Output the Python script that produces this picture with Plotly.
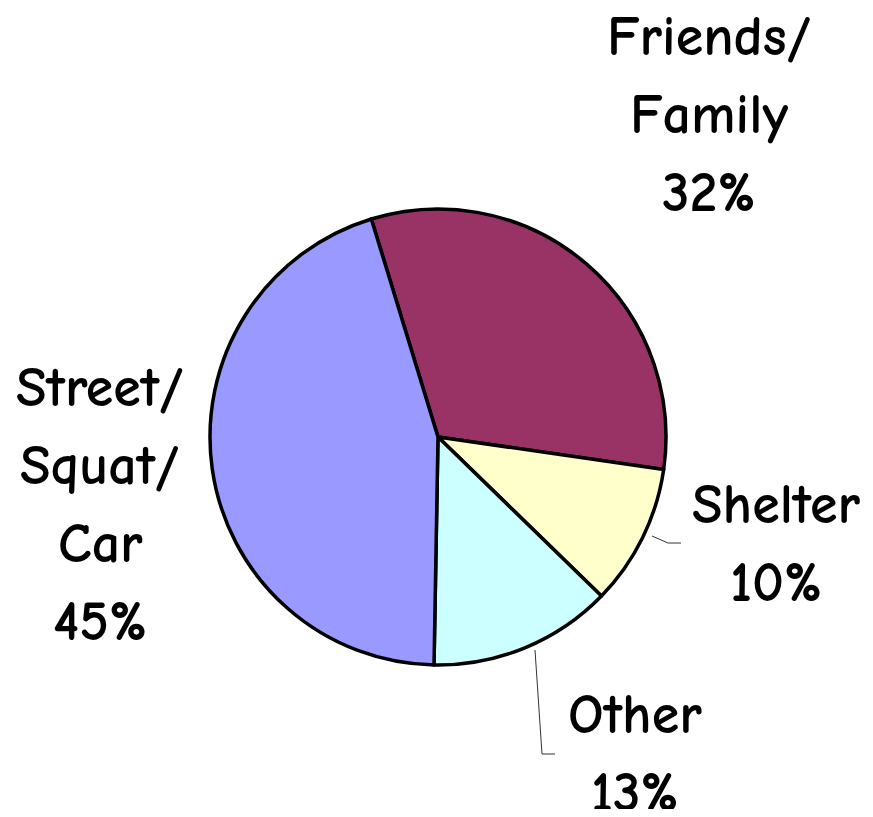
import plotly.graph_objects as go

labels = ["Friends/<br>Family", "Shelter", "Other", "Street/<br>Squat/<br>Car"]
values = [32, 10, 13, 45]
colors = ["#993366", "#FFFFCC", "#CCFFFF", "#9999FF"]

W, H = 873, 817
OFF = 8  # default page body margin
FW, FH = W - 2 * OFF, H - 2 * OFF
FONT = "Comic Sans MS, Comic Neue, Open Sans, sans-serif"
FS = 56
LINE = 78

# label anchor (center x, first-line center y) in page pixels
label_pos = [(709, 37), (776, 505), (635, 715), (100, 388)]

def px(x):
    return (x - OFF) / FW

def py(y):
    return 1 - (y - OFF) / FH

fig = go.Figure(go.Pie(
    labels=labels,
    values=values,
    sort=False,
    direction="clockwise",
    rotation=-17,
    marker=dict(colors=colors, line=dict(color="black", width=3.5)),
    textinfo="none",
    hoverinfo="label+percent",
    domain=dict(x=[px(210), px(666)], y=[py(665), py(209)]),
    showlegend=False,
))

total = sum(values)
annotations = []
for lab, val, (cx, cy) in zip(labels, values, label_pos):
    lines = lab.split("<br>") + [f"{round(val / total * 100)}%"]
    for i, t in enumerate(lines):
        annotations.append(dict(
            x=px(cx), y=py(cy + i * LINE), xref="paper", yref="paper",
            text=f"<b>{t}</b>", showarrow=False, xanchor="center", yanchor="middle",
            borderpad=0,
            font=dict(family=FONT, size=FS, color="black"),
        ))

def path(points):
    return "M " + " L ".join(f"{px(x)},{py(y)}" for x, y in points)

shapes = [
    dict(type="path", xref="paper", yref="paper",
         path=path([(652, 536), (668, 543), (681, 543)]),
         line=dict(color="#333333", width=1)),
    dict(type="path", xref="paper", yref="paper",
         path=path([(535, 650), (542, 754), (555, 754)]),
         line=dict(color="#333333", width=1)),
]

fig.update_layout(
    width=FW, height=FH,
    margin=dict(l=0, r=0, t=0, b=0),
    paper_bgcolor="white", plot_bgcolor="white",
    annotations=annotations,
    shapes=shapes,
)

fig.write_html("out.html")
